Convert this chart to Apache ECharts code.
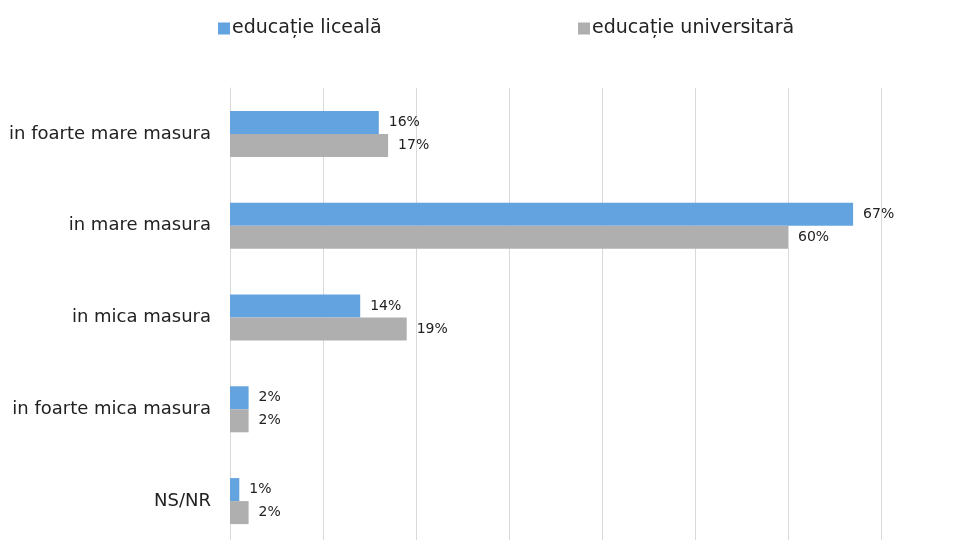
<!DOCTYPE html>
<html>
<head>
<meta charset="utf-8">
<script src="https://cdn.jsdelivr.net/npm/echarts@6/dist/echarts.min.js"></script>
<style>
  html, body { margin: 0; padding: 0; background: #fff; overflow: hidden; }
  /* the plot area runs past the bottom edge of the page, so the canvas is taller than the view */
  #chart { width: 960px; height: 560px; }
</style>
</head>
<body>
<div id="chart"></div>
<script>
// Response categories, top to bottom
const categories = ['in foarte mare masura', 'in mare masura', 'in mica masura', 'in foarte mica masura', 'NS/NR'];
// Share of respondents (%) by education level
const liceala = [16, 67, 14, 2, 1];
const universitara = [17, 60, 19, 2, 2];
const seriesNames = ['educație liceală', 'educație universitară'];

const FONT = 'DejaVu Sans';
const chart = echarts.init(document.getElementById('chart'));

const valueLabel = {
  show: true,
  position: 'right',
  distance: 10,
  color: '#222',
  fontFamily: FONT,
  fontSize: 14,
  formatter: p => p.value + '%'
};

const legendText = { fontFamily: FONT, fontSize: 19, color: '#222', padding: [0, 0, 0, -3] };

chart.setOption({
  animation: false,
  legend: [
    { data: [seriesNames[0]], left: 213, top: 14, icon: 'rect', itemWidth: 12, itemHeight: 12, itemGap: 4, textStyle: legendText },
    { data: [seriesNames[1]], left: 573, top: 14, icon: 'rect', itemWidth: 12, itemHeight: 12, itemGap: 4, textStyle: legendText }
  ],
  grid: { left: 230, top: 88, right: 79, bottom: 13, containLabel: false },
  xAxis: {
    type: 'value', min: 0, max: 70, interval: 10,
    axisLabel: { show: false }, axisLine: { show: false }, axisTick: { show: false },
    splitLine: { show: true, lineStyle: { color: '#d9d9d9', width: 1 } }
  },
  yAxis: {
    type: 'category', data: categories, inverse: true,
    axisLine: { show: true, lineStyle: { color: '#d9d9d9' } },
    axisTick: { show: false },
    axisLabel: { margin: 19, color: '#222', fontFamily: FONT, fontSize: 18 }
  },
  series: [
    { name: seriesNames[0], type: 'bar', data: liceala, barWidth: 23, barGap: '0%',
      itemStyle: { color: '#62a3e0' }, label: valueLabel },
    { name: seriesNames[1], type: 'bar', data: universitara, barWidth: 23, barGap: '0%',
      itemStyle: { color: '#afafaf' }, label: valueLabel }
  ]
});
</script>
</body>
</html>
